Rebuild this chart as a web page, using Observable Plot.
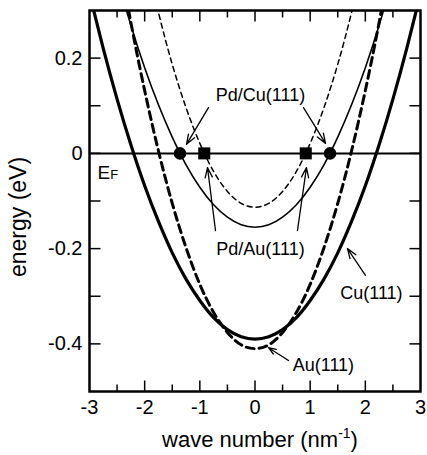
<!DOCTYPE html>
<html><head><meta charset="utf-8">
<script src="https://cdn.jsdelivr.net/npm/d3@7"></script>
<script src="https://cdn.jsdelivr.net/npm/@observablehq/plot@0.6"></script>
<style>body{margin:0;background:#fff;}</style>
</head><body><div id="chart"></div>
<script>
// ---- data ----
const kCu = [-3,-2.75,-2.5,-2.25,-2,-1.75,-1.5,-1.25,-1,-0.75,-0.5,-0.25,0,0.25,0.5,0.75,1,1.25,1.5,1.75,2,2.25,2.5,2.75,3];
const eCu = [0.335,0.220,0.114,0.018,-0.068,-0.143,-0.209,-0.264,-0.309,-0.345,-0.370,-0.385,-0.390,-0.385,-0.370,-0.345,-0.309,-0.264,-0.209,-0.143,-0.068,0.018,0.114,0.220,0.335];
const kAu = [-2.5,-2.25,-2,-1.75,-1.5,-1.25,-1,-0.75,-0.5,-0.25,0,0.25,0.5,0.75,1,1.25,1.5,1.75,2,2.25,2.5];
const eAu = [0.436,0.275,0.132,0.005,-0.105,-0.198,-0.275,-0.334,-0.376,-0.402,-0.410,-0.402,-0.376,-0.334,-0.275,-0.198,-0.105,0.005,0.132,0.275,0.436];
const kPdCu = [-2.5,-2.25,-2,-1.75,-1.5,-1.25,-1,-0.75,-0.5,-0.25,0,0.25,0.5,0.75,1,1.25,1.5,1.75,2,2.25,2.5];
const ePdCu = [0.369,0.269,0.180,0.102,0.034,-0.024,-0.071,-0.108,-0.134,-0.150,-0.155,-0.150,-0.134,-0.108,-0.071,-0.024,0.034,0.102,0.180,0.269,0.369];
const kPdAu = [-2,-1.75,-1.5,-1.25,-1,-0.75,-0.5,-0.25,0,0.25,0.5,0.75,1,1.25,1.5,1.75,2];
const ePdAu = [0.421,0.296,0.187,0.096,0.021,-0.038,-0.080,-0.105,-0.113,-0.105,-0.080,-0.038,0.021,0.096,0.187,0.296,0.421];

const kCircles = [-1.36, 1.36];   // Pd/Cu(111) Fermi crossings
const kSquares = [-0.92, 0.92];   // Pd/Au(111) Fermi crossings

const xDomain = [-3, 3];
const yDomain = [-0.5, 0.3];
const xLabels = [-3,-2,-1,0,1,2,3];
const xMajor = [-2,-1,0,1,2];
const xMinor = [-2.5,-1.5,-0.5,0.5,1.5,2.5];
const yLabels = [-0.4,-0.2,0,0.2];
const yTicks = [-0.4,-0.3,-0.2,-0.1,0,0.1,0.2];

const annoText = ["Pd/Cu(111)","Pd/Au(111)","Cu(111)","Au(111)"];
const annoK = [0.1, 0.1, 2.11, 1.24];
const annoE = [0.1215, -0.2018, -0.294, -0.445];

const arrowK1 = [-0.843, 0.879, -0.716, 0.770, 2.003, 0.607];
const arrowE1 = [0.096, 0.096, -0.162, -0.162, -0.256, -0.435];
const arrowK2 = [-1.242, 1.278, -0.861, 0.933, 1.676, 0.245];
const arrowE2 = [0.019, 0.021, -0.030, -0.030, -0.200, -0.408];

// ---- layout ----
const W = 427, H = 455, mL = 89, mR = 7, mT = 10, mB = 64;
const fw = W - mL - mR, fh = H - mT - mB;

// ---- tables ----
const toRows = (ks, es) => ks.map((k, i) => ({k, E: es[i]}));
const cu = toRows(kCu, eCu), au = toRows(kAu, eAu), pdcu = toRows(kPdCu, ePdCu), pdau = toRows(kPdAu, ePdAu);
const circles = kCircles.map(k => ({k, E: 0}));
const squares = kSquares.map(k => ({k, E: 0}));
const annos = annoText.map((t, i) => ({t, k: annoK[i], E: annoE[i]}));
const arrows = arrowK1.map((k, i) => ({k1: k, e1: arrowE1[i], k2: arrowK2[i], e2: arrowE2[i]}));
const yLo = yDomain[0], yHi = yDomain[1], xLo = xDomain[0], xHi = xDomain[1];
const yPx = (yHi - yLo) / fh, xPx = (xHi - xLo) / fw;
const xMajT = xMajor.map(k => ({k}));
const xMinT = xMinor.map(k => ({k}));
const yT = yTicks.map(E => ({E}));
const ts = {stroke: "#000", strokeWidth: 1.5};

const yFmt = d => d === 0 ? "0" : d3.format(".1f")(d).replace("\u2212", "-");

const plot = Plot.plot({
  width: W, height: H,
  marginLeft: mL, marginRight: mR, marginTop: mT, marginBottom: mB,
  style: {fontFamily: "'Liberation Sans', Arial, sans-serif", fontSize: "20px", color: "#000", background: "#fff"},
  x: {domain: xDomain},
  y: {domain: yDomain},
  marks: [
    Plot.ruleY([0], {stroke: "#000", strokeWidth: 2}),
    Plot.line(pdau, {x: "k", y: "E", stroke: "#000", strokeWidth: 1.5, strokeDasharray: "5,4", curve: "natural", clip: true}),
    Plot.line(pdcu, {x: "k", y: "E", stroke: "#000", strokeWidth: 1.6, curve: "natural", clip: true}),
    Plot.line(au, {x: "k", y: "E", stroke: "#000", strokeWidth: 3, strokeDasharray: "8,5", curve: "natural", clip: true}),
    Plot.line(cu, {x: "k", y: "E", stroke: "#000", strokeWidth: 3.2, curve: "natural", clip: true}),
    Plot.dot(circles, {x: "k", y: "E", r: 6.3, fill: "#000", stroke: null}),
    Plot.dot(squares, {x: "k", y: "E", r: 6.8, symbol: "square", fill: "#000", stroke: null}),
    Plot.arrow(arrows, {x1: "k1", y1: "e1", x2: "k2", y2: "e2", stroke: "#000", strokeWidth: 1.3, headLength: 12, headAngle: 40}),
    // inward tick marks on all four sides
    Plot.link(xMajT, {x1: "k", x2: "k", y1: () => yLo, y2: () => yLo + 11 * yPx, ...ts}),
    Plot.link(xMinT, {x1: "k", x2: "k", y1: () => yLo, y2: () => yLo + 7 * yPx, ...ts}),
    Plot.link(xMajT, {x1: "k", x2: "k", y1: () => yHi, y2: () => yHi - 11 * yPx, ...ts}),
    Plot.link(xMinT, {x1: "k", x2: "k", y1: () => yHi, y2: () => yHi - 7 * yPx, ...ts}),
    Plot.link(yT, {y1: "E", y2: "E", x1: () => xLo, x2: () => xLo + 11 * xPx, ...ts}),
    Plot.link(yT, {y1: "E", y2: "E", x1: () => xHi, x2: () => xHi - 11 * xPx, ...ts}),
    Plot.text(annos, {x: "k", y: "E", text: "t", fontSize: 18, fill: "#000"}),
    Plot.text(["EF"], {frameAnchor: "left", dx: 8, y: 0, dy: 20, textAnchor: "start", fontSize: 19, fill: "#000"}),
    Plot.frame({stroke: "#000", strokeWidth: 2.5}),
    // tick labels
    Plot.axisX(xLabels, {anchor: "bottom", tickSize: 0, tickPadding: 8, tickFormat: d => String(d), label: null, fontSize: 20}),
    Plot.axisY(yLabels, {anchor: "left", tickSize: 0, tickPadding: 7, tickFormat: yFmt, label: null, fontSize: 20}),
    // axis titles
    Plot.text(["wave number (nm-1)"], {frameAnchor: "bottom", dy: 55, dx: 5, textAnchor: "middle", fontSize: 22, fill: "#000"}),
    Plot.text(["energy (eV)"], {frameAnchor: "left", dx: -71, dy: 16, textAnchor: "middle", rotate: -90, fontSize: 23, fill: "#000"})
  ]
});

// superscript / subscript formatting of titles
const ns = "http://www.w3.org/2000/svg";
d3.select(plot).selectAll("text").each(function() {
  const t = this.textContent;
  if (t === "wave number (nm-1)") {
    this.textContent = "wave number (nm";
    const s = document.createElementNS(ns, "tspan"); s.setAttribute("dy", "-9"); s.setAttribute("font-size", "14"); s.textContent = "-1";
    const c = document.createElementNS(ns, "tspan"); c.setAttribute("dy", "9"); c.textContent = ")";
    this.appendChild(s); this.appendChild(c);
  } else if (t === "EF") {
    this.textContent = "E";
    const s = document.createElementNS(ns, "tspan"); s.setAttribute("font-size", "13"); s.textContent = "F";
    this.appendChild(s);
  }
});
document.getElementById("chart").appendChild(plot);
</script>
</body></html>
